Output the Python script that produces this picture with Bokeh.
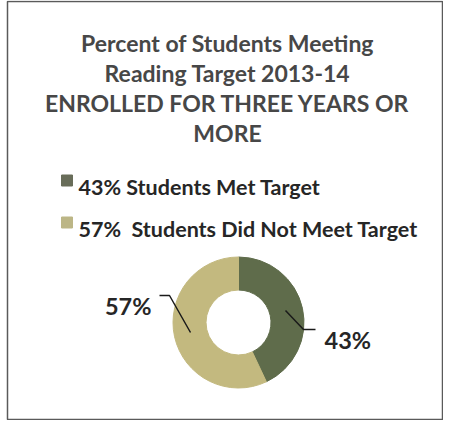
from math import pi
from bokeh.plotting import figure
from bokeh.models import Range1d, ColumnDataSource
from bokeh.core.properties import value
from bokeh.embed import file_html
from bokeh.resources import INLINE

# ---- data ----
title_lines = ["Percent of Students Meeting", "Reading Target 2013-14",
               "ENROLLED FOR THREE YEARS OR", "MORE"]
categories = ["Students Met Target", "Students Did Not Meet Target"]
percents = [43, 57]
legend_labels = ["43% Students Met Target", "57%\u00a0 Students Did Not Meet Target"]
colors = ["#5f6c4b", "#c3b97f"]
legend_colors = ["#686d59", "#bcb686"]

W, H = 443, 420
FONT = "Lato"

p = figure(width=W, height=H, output_backend="svg", toolbar_location=None,
           x_range=Range1d(0, W), y_range=Range1d(0, H), min_border=0)
p.axis.visible = False
p.grid.visible = False
p.outline_line_color = None
p.background_fill_color = "white"

# frame of the scanned box
p.quad(left=[7], right=[W - 1], top=[H - 1], bottom=[1], fill_color=None,
       line_color="#5a5a5a", line_width=1.5)

# title
ty = [378, 348, 317.5, 288]
p.text(x=[227] * 4, y=ty, text=title_lines, text_align="center",
       text_baseline="alphabetic", text_font=value(FONT), text_font_style="bold",
       text_font_size="23px", text_color="#474747")

# legend
p.rect(x=[66.5, 66.5], y=[240, 198], width=11, height=11, fill_color=legend_colors,
       line_color=legend_colors)
p.text(x=[78, 78], y=[234, 192], text=legend_labels, text_align="left",
       text_baseline="alphabetic", text_font=value(FONT), text_font_style="bold",
       text_font_size="21.5px", text_color="#262626")

# donut
cx, cy = 238, 98
total = sum(percents)
starts, ends = [], []
a = pi / 2
for v in percents:
    starts.append(a)
    a = a - v / total * 2 * pi
    ends.append(a)
src = ColumnDataSource(dict(start=starts, end=ends, color=colors))
p.annular_wedge(x=cx, y=cy, inner_radius=32.5, outer_radius=65.5,
                start_angle="start", end_angle="end", direction="clock",
                fill_color="color", line_color="color", source=src)

# data labels with leader lines
p.line(x=[159, 169, 190], y=[125, 125, 88], line_color="#1a1a1a", line_width=1.5)
p.line(x=[285, 303, 315], y=[110, 91, 91], line_color="#1a1a1a", line_width=1.5)
p.text(x=[151], y=[115], text=[f"{percents[1]}%"], text_align="right",
       text_baseline="alphabetic", text_font=value(FONT), text_font_style="bold",
       text_font_size="23.5px", text_color="#262626")
p.text(x=[324], y=[81], text=[f"{percents[0]}%"], text_align="left",
       text_baseline="alphabetic", text_font=value(FONT), text_font_style="bold",
       text_font_size="23.5px", text_color="#262626")

open("out.html", "w").write(file_html(p, INLINE))
